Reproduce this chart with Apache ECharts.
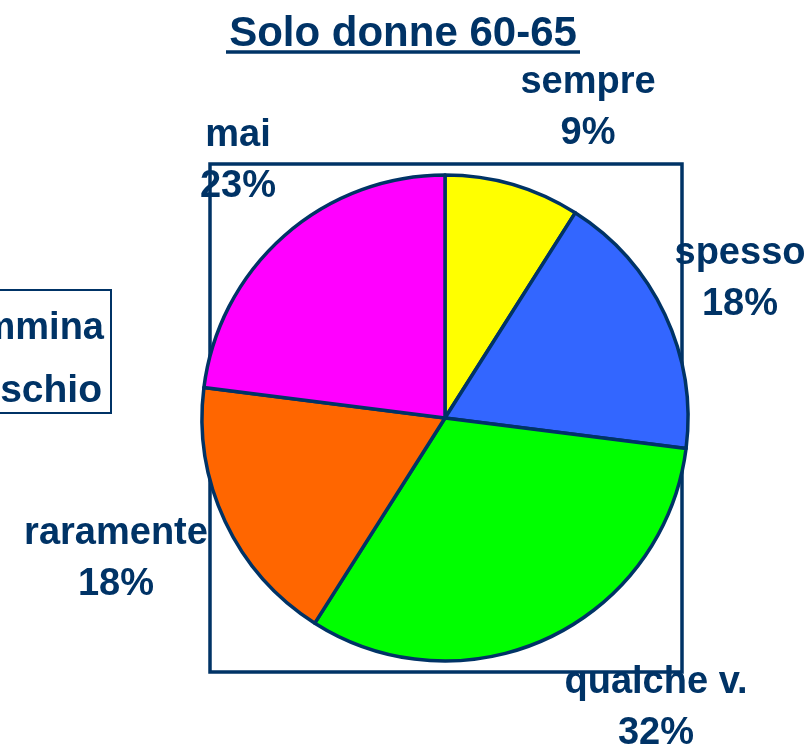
<!DOCTYPE html>
<html>
<head>
<meta charset="utf-8">
<script src="https://cdn.jsdelivr.net/npm/echarts@6/dist/echarts.min.js"></script>
<style>
  html, body { margin: 0; padding: 0; background: #fff; }
  #chart { width: 812px; height: 745px; }
</style>
</head>
<body>
<div id="chart"></div>
<script>
// dati del grafico
const categories = ["sempre", "spesso", "qualche v.", "raramente", "mai"];
const values = [9, 18, 32, 18, 23];
const colors = ["#ffff00", "#3366ff", "#00ff00", "#ff6600", "#ff00ff"];

const navy = "#003366";
// posizione delle etichette (centro del blocco di testo)
const labelPos = [
  [588, 108],
  [740, 279],
  [656, 708],
  [116, 559],
  [238, 161],
];

const chart = echarts.init(document.getElementById("chart"));

const option = {
  animation: false,
  backgroundColor: "#fff",
  graphic: [
    // riquadro dell'area del grafico
    {
      type: "rect",
      z: 0,
      shape: { x: 210, y: 164, width: 472, height: 508 },
      style: { fill: "none", stroke: navy, lineWidth: 3.5 },
    },
    // riquadro a sinistra, tagliato
    {
      type: "rect",
      z: 0,
      shape: { x: -10, y: 290, width: 121, height: 123 },
      style: { fill: "#fff", stroke: navy, lineWidth: 2 },
    },
    {
      type: "text",
      z: 1,
      x: 104,
      y: 348,
      style: {
        text: "mmina",
        fill: navy,
        font: "bold 38px 'Liberation Sans', Arial, sans-serif",
        textAlign: "right",
        textVerticalAlign: "bottom",
      },
    },
    {
      type: "text",
      z: 1,
      x: 102,
      y: 411,
      style: {
        text: "schio",
        fill: navy,
        font: "bold 39px 'Liberation Sans', Arial, sans-serif",
        textAlign: "right",
        textVerticalAlign: "bottom",
      },
    },
    // titolo sottolineato
    {
      type: "text",
      z: 1,
      x: 403,
      y: 55,
      style: {
        text: "Solo donne 60-65",
        fill: navy,
        font: "bold 42px 'Liberation Sans', Arial, sans-serif",
        textAlign: "center",
        textVerticalAlign: "bottom",
      },
    },
    {
      type: "line",
      z: 1,
      shape: { x1: 226, y1: 52, x2: 580, y2: 52 },
      style: { stroke: navy, lineWidth: 3.5 },
    },
  ],
  series: [
    {
      type: "pie",
      z: 2,
      center: [445, 418],
      radius: 243,
      startAngle: 90,
      clockwise: true,
      silent: true,
      itemStyle: { borderColor: navy, borderWidth: 3.5 },
      label: {
        show: true,
        position: "outside",
        overflow: "none",
        color: navy,
        fontFamily: "'Liberation Sans', Arial, sans-serif",
        fontWeight: "bold",
        fontSize: 38,
        lineHeight: 51,
        align: "center",
        formatter: (p) => p.name + "\n" + p.value + "%",
      },
      labelLine: { show: false },
      labelLayout: (params) => ({
        x: labelPos[params.dataIndex][0],
        y: labelPos[params.dataIndex][1],
        align: "center",
        verticalAlign: "middle",
      }),
      data: categories.map((name, i) => ({
        name,
        value: values[i],
        itemStyle: { color: colors[i] },
      })),
    },
  ],
};

chart.setOption(option);
</script>
</body>
</html>
